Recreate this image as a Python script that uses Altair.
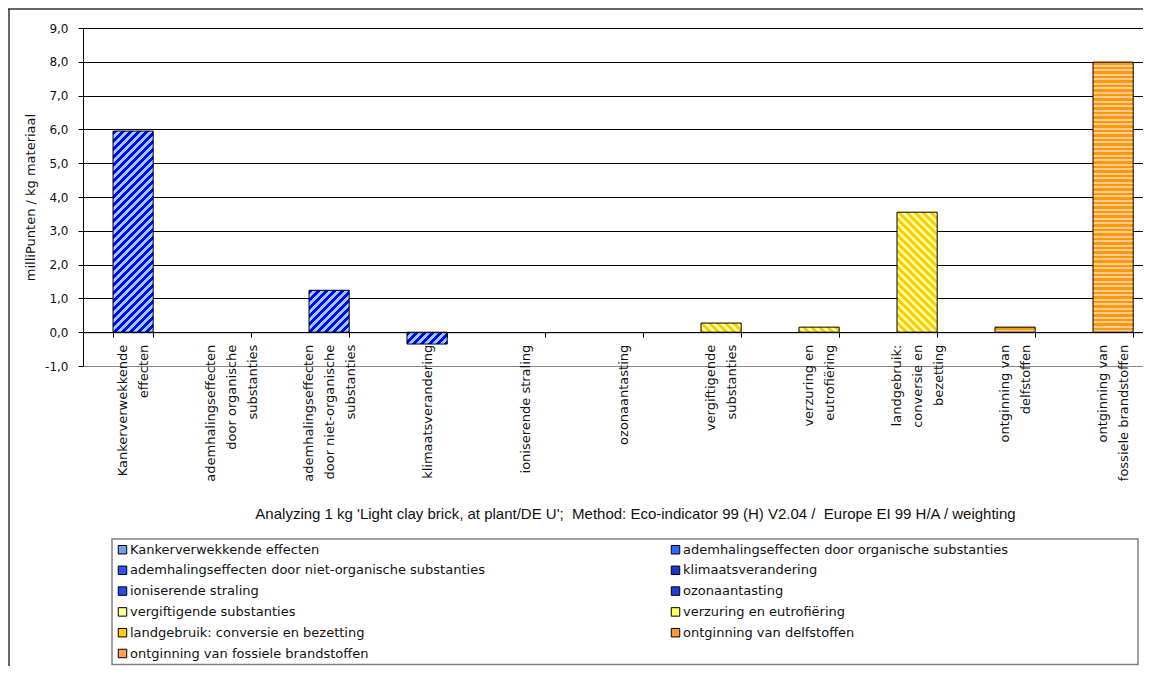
import math
import altair as alt
import pandas as pd

# ---------------- data ----------------
categories = [
    "Kankerverwekkende effecten",
    "ademhalingseffecten door organische substanties",
    "ademhalingseffecten door niet-organische substanties",
    "klimaatsverandering",
    "ioniserende straling",
    "ozonaantasting",
    "vergiftigende substanties",
    "verzuring en eutrofiëring",
    "landgebruik: conversie en bezetting",
    "ontginning van delfstoffen",
    "ontginning van fossiele brandstoffen",
]
axis_labels = [
    "Kankerverwekkende|effecten",
    "ademhalingseffecten|door organische|substanties",
    "ademhalingseffecten|door niet-organische|substanties",
    "klimaatsverandering",
    "ioniserende straling",
    "ozonaantasting",
    "vergiftigende|substanties",
    "verzuring en|eutrofiëring",
    "landgebruik:|conversie en|bezetting",
    "ontginning van|delfstoffen",
    "ontginning van|fossiele brandstoffen",
]
values = [5.95, 0.0, 1.24, -0.35, 0.0, 0.0, 0.27, 0.15, 3.55, 0.15, 7.99]
y_ticks = [-1, 0, 1, 2, 3, 4, 5, 6, 7, 8, 9]
y_title = "milliPunten / kg materiaal"
x_title = ("Analyzing 1 kg 'Light clay brick, at plant/DE U';\u00a0 Method: "
           "Eco-indicator 99 (H) V2.04 /\u00a0 Europe EI 99 H/A / weighting")

# ---------------- styles ----------------
legend_colors = ["#6f9ff5", "#3366ff", "#2a55ee", "#1a38cc", "#2448ee", "#1f3fdd",
                 "#ffff99", "#ffff66", "#ffcc00", "#ff9933", "#ffa04a"]
# (direction, dark, light, period px, dark fraction)
patterns = [
    ("/", "#0000ff", "#99ccff", 8.0, 0.5),
    None,
    ("/", "#0000ff", "#99ccff", 8.0, 0.5),
    ("/", "#0000ff", "#99ccff", 8.0, 0.5),
    None,
    None,
    ("\\", "#ffcc00", "#ffff99", 8.0, 0.5),
    ("\\", "#ffcc00", "#ffff99", 8.0, 0.5),
    ("\\", "#ffcc00", "#ffff99", 8.0, 0.5),
    ("h", "#ff9900", "#ffcc99", 4.5, 0.62),
    ("h", "#ff9900", "#ffcc99", 4.5, 0.62),
]

W, H = 1060, 338
PAD_L, PAD_T, PAD_B = 75, 20, 300
Y_MIN, Y_MAX = -1, 9
STEP = 98.0
P_IN = 0.59
n_cat = len(categories)
P_OUT = (W / STEP - (n_cat - P_IN)) / 2
ALIGN = 30.0 / (W - STEP * (n_cat - P_IN))
bar_w = STEP * (1 - P_IN)
px_per_unit = H / (Y_MAX - Y_MIN)
FONT = "DejaVu Sans"
LH = 21

df = pd.DataFrame({"cat": categories, "lab": axis_labels, "val": values})

x_enc = alt.X(
    "lab:N",
    sort=axis_labels,
    scale=alt.Scale(paddingInner=P_IN, paddingOuter=P_OUT, align=ALIGN),
    axis=alt.Axis(
        orient="bottom",
        offset=-(0 - Y_MIN) * px_per_unit,
        domainColor="black",
        domainWidth=1,
        tickColor="black",
        tickSize=5,
        tickBand="extent",
        labelAngle=270,
        labelAlign="right",
        labelBaseline="middle",
        labelPadding=7,
        labelOffset={
            "condition": [
                {"test": "length(split(datum.value, '|')) == 3", "value": -LH},
                {"test": "length(split(datum.value, '|')) == 2", "value": -LH / 2},
            ],
            "value": 0,
        },
        labelExpr="split(datum.label, '|')",
        labelLineHeight=LH,
        labelFont=FONT,
        labelFontSize=13,
        labelColor="#111",
        labelOverlap=False,
        labelLimit=400,
        grid=False,
        zindex=1,
        title=x_title,
        titleX=552,
        titleY=181,
        titleAlign="center",
        titleBaseline="middle",
        titleFont="Liberation Sans",
        titleFontSize=15,
        titleFontWeight="normal",
        titleColor="#111",
    ),
)
y_enc = alt.Y(
    "val:Q",
    scale=alt.Scale(domain=[Y_MIN, Y_MAX], nice=False, zero=False),
    axis=alt.Axis(
        values=y_ticks,
        labelExpr="replace(replace(format(datum.value, '.1f'), '.', ','), '\u2212', '-')",
        grid=True,
        gridColor={"condition": {"test": "datum.value < 0", "value": "#888888"}, "value": "black"},
        gridWidth=1,
        domainColor="black",
        tickColor="black",
        tickSize=5,
        labelFont=FONT,
        labelFontSize=12,
        labelColor="#111",
        labelPadding=10,
        title=y_title,
        titleFont=FONT,
        titleFontSize=13,
        titleFontWeight="normal",
        titleColor="#111",
        titleX=-53,
        titleY=H / 2,
        titleBaseline="middle",
        titleAngle=270,
    ),
)

base = alt.Chart(df).mark_bar(strokeWidth=0).encode(
    x=x_enc,
    y=y_enc,
    color=alt.Color(
        "cat:N",
        scale=alt.Scale(domain=categories, range=legend_colors),
        legend=alt.Legend(
            orient="none",
            legendX=33,
            legendY=515,
            direction="horizontal",
            columns=2,
            columnPadding=184,
            rowPadding=6.8,
            symbolType="square",
            symbolSize=72,
            symbolStrokeColor="black",
            symbolStrokeWidth=1,
            symbolOpacity=1,
            labelFont=FONT,
            labelFontSize=13,
            labelColor="#111",
            labelLimit=700,
            labelOffset=1,
            padding=0,
            title=None,
        ),
    ),
)


def stripe_gradient(spec, w, h):
    direction, dark, light, period, frac = spec
    if direction == "h":
        length = h
        g = {"x1": 0, "y1": 0, "x2": 0, "y2": 1}
    else:
        length = w + h
        k = (w + h) / (w * w + h * h)
        if direction == "/":
            g = {"x1": 0, "y1": 0, "x2": k * w, "y2": k * h}
        else:
            g = {"x1": 0, "y1": 1, "x2": k * w, "y2": 1 - k * h}
    stops = []
    n = int(math.ceil(length / period))
    for i in range(n):
        a = min(i * period / length, 1)
        b = min((i + frac) * period / length, 1)
        c = min((i + 1) * period / length, 1)
        stops += [
            {"offset": round(a, 5), "color": dark},
            {"offset": round(b, 5), "color": dark},
            {"offset": round(b, 5), "color": light},
            {"offset": round(c, 5), "color": light},
        ]
    g.update({"gradient": "linear", "stops": stops})
    return g


layers = [base]
for cat, val, spec in zip(categories, values, patterns):
    if spec is None or val == 0:
        continue
    h = abs(val) * px_per_unit
    grad = stripe_gradient(spec, bar_w, h)
    layers.append(
        alt.Chart(df)
        .transform_filter(alt.datum.cat == cat)
        .mark_bar(fill=grad, stroke="black", strokeWidth=1)
        .encode(x=x_enc, y=y_enc)
    )

one = pd.DataFrame({"a": [0]})
legend_box = alt.Chart(one).mark_rect(fill="white", stroke="#808080", strokeWidth=1.5).encode(
    x=alt.value(29), x2=alt.value(1055), y=alt.value(511), y2=alt.value(636.5)
)
frame_left = alt.Chart(one).mark_rule(color="#333", strokeWidth=1.5).encode(
    x=alt.value(-74), y=alt.value(-19), y2=alt.value(H + PAD_B)
)
frame_top = alt.Chart(one).mark_rule(color="#333", strokeWidth=1.5).encode(
    x=alt.value(-75), x2=alt.value(W), y=alt.value(-19)
)

chart = (
    alt.layer(legend_box, frame_left, frame_top, *layers)
    .properties(
        width=W,
        height=H,
        padding={"left": PAD_L, "top": PAD_T, "right": 0, "bottom": PAD_B},
        autosize=alt.AutoSizeParams(type="none"),
        background="white",
    )
    .configure_view(stroke=None)
)

chart.save("out.html", embed_options={"renderer": "svg", "actions": False})
